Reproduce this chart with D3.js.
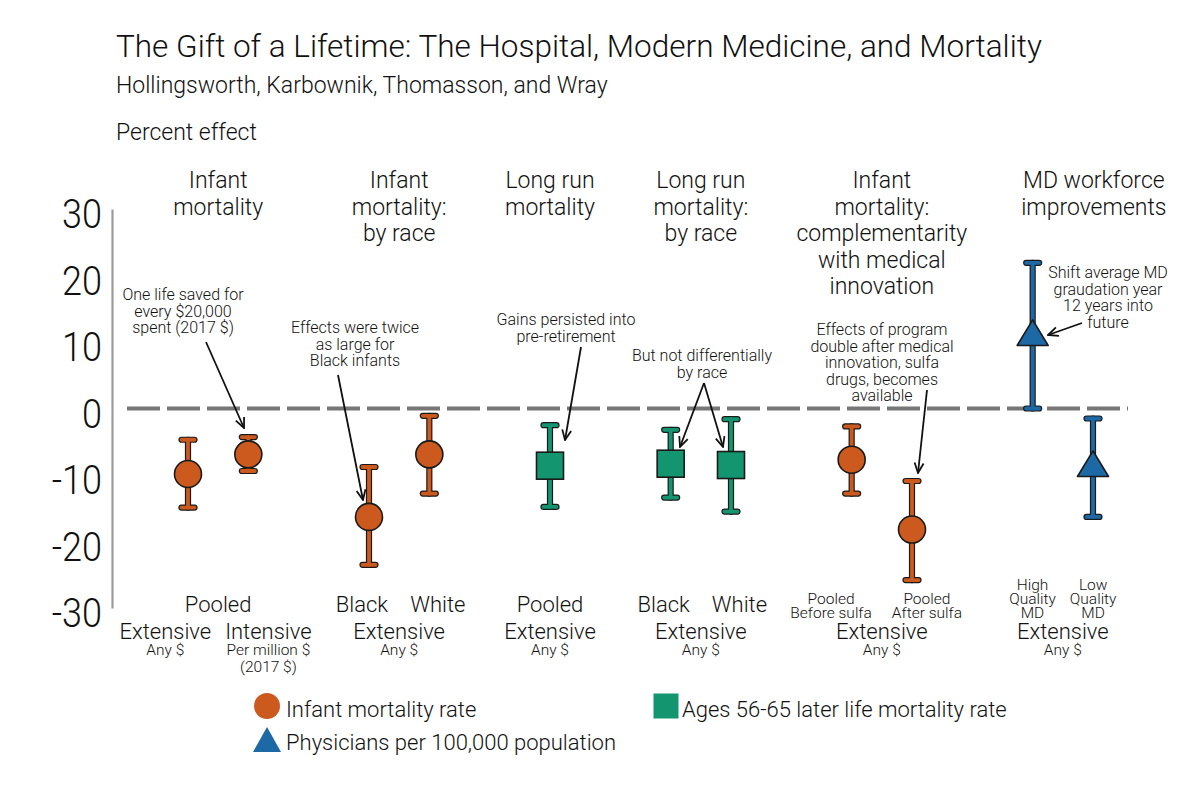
<!DOCTYPE html>
<html>
<head>
<meta charset="utf-8">
<script src="https://cdn.jsdelivr.net/npm/d3@7"></script>
<style>
  html, body { margin: 0; padding: 0; background: #ffffff; }
  svg { display: block; font-family: Roboto, "Noto Sans", sans-serif; font-weight: 300; }
</style>
</head>
<body>
<svg id="chart" width="1200" height="800"></svg>
<script>
// ---------------- DATA ----------------
const titleText = "The Gift of a Lifetime: The Hospital, Modern Medicine, and Mortality";
const subtitleText = "Hollingsworth, Karbownik, Thomasson, and Wray";
const yAxisTitle = "Percent effect";
const yTicks = [30, 20, 10, 0, -10, -20, -30];

const groupTitles = [
  ["Infant", "mortality"],
  ["Infant", "mortality:", "by race"],
  ["Long run", "mortality"],
  ["Long run", "mortality:", "by race"],
  ["Infant", "mortality:", "complementarity", "with medical", "innovation"],
  ["MD workforce", "improvements"]
];
const groupTopLabels = ["Pooled", null, "Pooled", null, null, null];
const groupMidLabels = [null, "Extensive", "Extensive", "Extensive", "Extensive", "Extensive"];
const groupNotes = [null, ["Any $"], ["Any $"], ["Any $"], ["Any $"], ["Any $"]];

const pointGroup = [0, 0, 1, 1, 2, 3, 3, 4, 4, 5, 5];
const pointTopLabels = [null, null, ["Black"], ["White"], null, ["Black"], ["White"],
  ["Pooled", "Before sulfa"], ["Pooled", "After sulfa"],
  ["High", "Quality", "MD"], ["Low", "Quality", "MD"]];
const pointMidLabels = ["Extensive", "Intensive", null, null, null, null, null, null, null, null, null];
const pointNotes = [["Any $"], ["Per million $", "(2017 $)"], null, null, null, null, null, null, null, null, null];
const pointSeries = ["infant", "infant", "infant", "infant", "later", "later", "later", "infant", "infant", "physicians", "physicians"];
const estimates = [-9.85, -6.9, -16.3, -6.9, -8.6, -8.3, -8.5, -7.7, -18.2, 11.4, -8.3];
const lowerCI   = [-14.9, -9.4, -23.5, -12.8, -14.8, -13.4, -15.5, -12.8, -25.8, 0, -16.3];
const upperCI   = [-4.7, -4.3, -8.8, -1.1, -2.5, -3.2, -1.6, -2.7, -10.9, 21.9, -1.5];

const seriesKeys = ["infant", "later", "physicians"];
const seriesNames = ["Infant mortality rate", "Ages 56-65 later life mortality rate", "Physicians per 100,000 population"];
const seriesColors = ["#cc5a1e", "#139670", "#1c69a5"];

const annotationTexts = [
  ["One life saved for", "every $20,000", "spent (2017 $)"],
  ["Effects were twice", "as large for", "Black infants"],
  ["Gains persisted into", "pre-retirement"],
  ["But not differentially", "by race"],
  ["Effects of program", "double after medical", "innovation, sulfa", "drugs, becomes", "available"],
  ["Shift average MD", "graudation year", "12 years into", "future"]
];

// ---------------- LAYOUT ----------------
const svg = d3.select("#chart");
const W = 1200, H = 800;
svg.append("rect").attr("width", W).attr("height", H).attr("fill", "#fff");

// slot index: points in a group are adjacent, one empty slot between groups
const slots = [];
{
  let s = 0;
  pointGroup.forEach((g, i) => {
    if (i > 0 && g !== pointGroup[i - 1]) s += 2; else if (i > 0) s += 1;
    slots.push(s);
  });
}
const x = d3.scaleLinear().domain([0, d3.max(slots)]).range([188, 1093]);
const y = d3.scaleLinear().domain([-30, 30]).range([608, 209]);
const color = d3.scaleOrdinal().domain(seriesKeys).range(seriesColors);

const groupIdx = d3.range(groupTitles.length);
const groupCenter = g => {
  const xs = pointGroup.map((pg, i) => pg === g ? x(slots[i]) : null).filter(v => v !== null);
  return d3.mean(xs);
};
const titleShift = [0, 0, 0, 0, 0, 31];
const pairGap = [7, 11, 0, 11, 10, 7];

// Title block
svg.append("text").attr("x", 116).attr("y", 57).attr("font-size", 31.5).attr("fill", "#111").text(titleText);
svg.append("text").attr("x", 116).attr("y", 93).attr("font-size", 23).attr("fill", "#111").text(subtitleText);
svg.append("text").attr("x", 116).attr("y", 140).attr("font-size", 23).attr("fill", "#111").text(yAxisTitle);

// Y axis
const yAxis = d3.axisLeft(y).tickValues(yTicks).tickSize(0).tickPadding(0).tickFormat(d => String(d));
const gy = svg.append("g").attr("transform", "translate(112,0)").call(yAxis);
gy.select(".domain").attr("stroke", "#9a9a9a").attr("stroke-width", 2.2);
gy.selectAll(".tick text")
  .attr("font-family", "Roboto, sans-serif").attr("font-weight", 300)
  .attr("font-size", 40).attr("fill", "#111")
  .attr("text-anchor", "end").attr("dy", "0.36em")
  .attr("transform", "translate(-10,4.5)")
  .each(function() {
    const len = this.getComputedTextLength();
    d3.select(this).attr("textLength", len * 0.9).attr("lengthAdjust", "spacingAndGlyphs");
  });

// zero reference line
svg.append("line")
  .attr("x1", 127).attr("x2", 1128)
  .attr("y1", y(0)).attr("y2", y(0))
  .attr("stroke", "#777").attr("stroke-width", 4)
  .attr("stroke-dasharray", "33,7");

// Group titles
groupIdx.forEach(g => {
  const t = svg.append("text").attr("text-anchor", "middle").attr("font-size", 23).attr("fill", "#111");
  groupTitles[g].forEach((line, j) => {
    t.append("tspan").attr("x", groupCenter(g) + titleShift[g]).attr("y", 188 + j * 26.5).text(line);
  });
});

// Error bars
const pts = estimates.map((e, i) => ({ i, e, lo: lowerCI[i], hi: upperCI[i], s: pointSeries[i], cx: x(slots[i]) }));
const capHalf = 6.5;
const bars = svg.append("g");
[{ w: 6.2, c: d => "#1a1a1a" }, { w: 3.8, c: d => color(d.s) }].forEach(layer => {
  const g = bars.append("g");
  pts.forEach(d => {
    const segs = [
      [d.cx, y(d.lo), d.cx, y(d.hi)],
      [d.cx - capHalf, y(d.lo), d.cx + capHalf, y(d.lo)],
      [d.cx - capHalf, y(d.hi), d.cx + capHalf, y(d.hi)]
    ];
    segs.forEach(s => {
      g.append("line").attr("x1", s[0]).attr("y1", s[1]).attr("x2", s[2]).attr("y2", s[3])
        .attr("stroke", layer.c(d)).attr("stroke-width", layer.w).attr("stroke-linecap", "round");
    });
  });
});

// markers
function drawMarker(sel, s, cx, cy, size) {
  if (s === "infant") {
    sel.append("circle").attr("cx", cx).attr("cy", cy).attr("r", size / 2)
      .attr("fill", color(s)).attr("stroke", "#1a1a1a").attr("stroke-width", 1.6);
  } else if (s === "later") {
    sel.append("rect").attr("x", cx - size / 2).attr("y", cy - size / 2).attr("width", size).attr("height", size)
      .attr("fill", color(s)).attr("stroke", "#1a1a1a").attr("stroke-width", 1.6);
  } else {
    const w = size * 1.15, h = size * 0.95;
    sel.append("path").attr("d", `M${cx},${cy - h / 2}L${cx + w / 2},${cy + h / 2}L${cx - w / 2},${cy + h / 2}Z`)
      .attr("fill", color(s)).attr("stroke", "#1a1a1a").attr("stroke-width", 1.6).attr("stroke-linejoin", "round");
  }
}
const marks = svg.append("g");
pts.forEach(d => drawMarker(marks, d.s, d.cx, y(d.e), 27));

// Bottom labels
function multiText(parent, lines, cx, y0, size, lh, anchor) {
  const t = parent.append("text").attr("text-anchor", anchor || "middle").attr("font-size", size).attr("fill", "#111");
  lines.forEach((l, j) => t.append("tspan").attr("x", cx).attr("y", y0 + j * lh).text(l));
  return t;
}
const labels = svg.append("g");
function textWidth(lines, size) {
  const t = svg.append("text").attr("font-size", size).attr("visibility", "hidden");
  let m = 0;
  lines.forEach(l => { t.text(l); m = Math.max(m, t.node().getComputedTextLength()); });
  t.remove();
  return m;
}
groupIdx.forEach(g => {
  const gc = groupCenter(g);
  const idx = pointGroup.map((pg, i) => pg === g ? i : -1).filter(i => i >= 0);
  if (groupTopLabels[g]) multiText(labels, [groupTopLabels[g]], gc, 612, 22, 0);
  if (groupMidLabels[g]) multiText(labels, [groupMidLabels[g]], gc, 639, 22, 0);
  if (groupNotes[g]) multiText(labels, groupNotes[g], gc, 655, 15.5, 17);
  idx.forEach((i, k) => {
    const side = idx.length === 1 ? 0 : (k === 0 ? -1 : 1);
    const place = (lines, size) => {
      const w = textWidth(lines, size);
      return side === 0 ? gc : gc + side * (pairGap[g] + w / 2);
    };
    if (pointTopLabels[i]) {
      const lines = pointTopLabels[i];
      if (lines.length === 1) {
        multiText(labels, lines, place(lines, 22), 612, 22, 0);
      } else {
        const lh = 13.8;
        const y0 = 618 - (lines.length - 1) * lh;
        multiText(labels, lines, place(lines, 15.5), y0, 15.5, lh);
      }
    }
    if (pointMidLabels[i]) {
      multiText(labels, [pointMidLabels[i]], place([pointMidLabels[i]], 22), 639, 22, 0);
    }
    if (pointNotes[i]) {
      const cx = place([pointMidLabels[i] || pointNotes[i][0]], pointMidLabels[i] ? 22 : 15.5);
      multiText(labels, pointNotes[i], cx, 655, 15.5, 17);
    }
  });
});

// Annotations
const defs = svg.append("defs");
defs.append("marker").attr("id", "arrow").attr("viewBox", "0 0 12 12")
  .attr("refX", 11).attr("refY", 6).attr("markerWidth", 12).attr("markerHeight", 12)
  .attr("markerUnits", "userSpaceOnUse").attr("orient", "auto")
  .append("path").attr("d", "M1,1.5L11,6L1,10.5").attr("fill", "none").attr("stroke", "#111").attr("stroke-width", 1.8);

const annLayout = [
  { tx: 183, ty: 300, from: [206, 342], to: [[244, 428]] },
  { tx: 355, ty: 333, from: [338, 375], to: [[363, 500]] },
  { tx: 566, ty: 325, from: [581, 347], to: [[565, 440]] },
  { tx: 702, ty: 361, from: [704, 383], to: [[680, 447], [723, 447]] },
  { tx: 882, ty: 335, from: [927, 390], to: [[918, 473]] },
  { tx: 1108, ty: 278, from: [1082, 323], to: [[1048, 335]] }
];
const ann = svg.append("g");
annotationTexts.forEach((lines, a) => {
  const L = annLayout[a];
  multiText(ann, lines, L.tx, L.ty, 16, 16.6);
  L.to.forEach(t => {
    ann.append("line").attr("x1", L.from[0]).attr("y1", L.from[1]).attr("x2", t[0]).attr("y2", t[1])
      .attr("stroke", "#111").attr("stroke-width", 1.8).attr("marker-end", "url(#arrow)");
  });
});

// Legend
const legend = svg.append("g");
const legendPos = [[267, 706, 286, 717], [666, 706, 682, 717], [267, 740, 286, 750]];
seriesKeys.forEach((s, i) => {
  const p = legendPos[i];
  const g = legend.append("g");
  if (s === "infant") g.append("circle").attr("cx", p[0]).attr("cy", p[1]).attr("r", 13).attr("fill", color(s));
  else if (s === "later") g.append("rect").attr("x", p[0] - 12.5).attr("y", p[1] - 12.5).attr("width", 25).attr("height", 25).attr("fill", color(s));
  else g.append("path").attr("d", `M${p[0]},${p[1] - 13}L${p[0] + 14},${p[1] + 12}L${p[0] - 14},${p[1] + 12}Z`).attr("fill", color(s));
  g.append("text").attr("x", p[2]).attr("y", p[3]).attr("font-size", 22).attr("fill", "#111").text(seriesNames[i]);
});
</script>
</body>
</html>
